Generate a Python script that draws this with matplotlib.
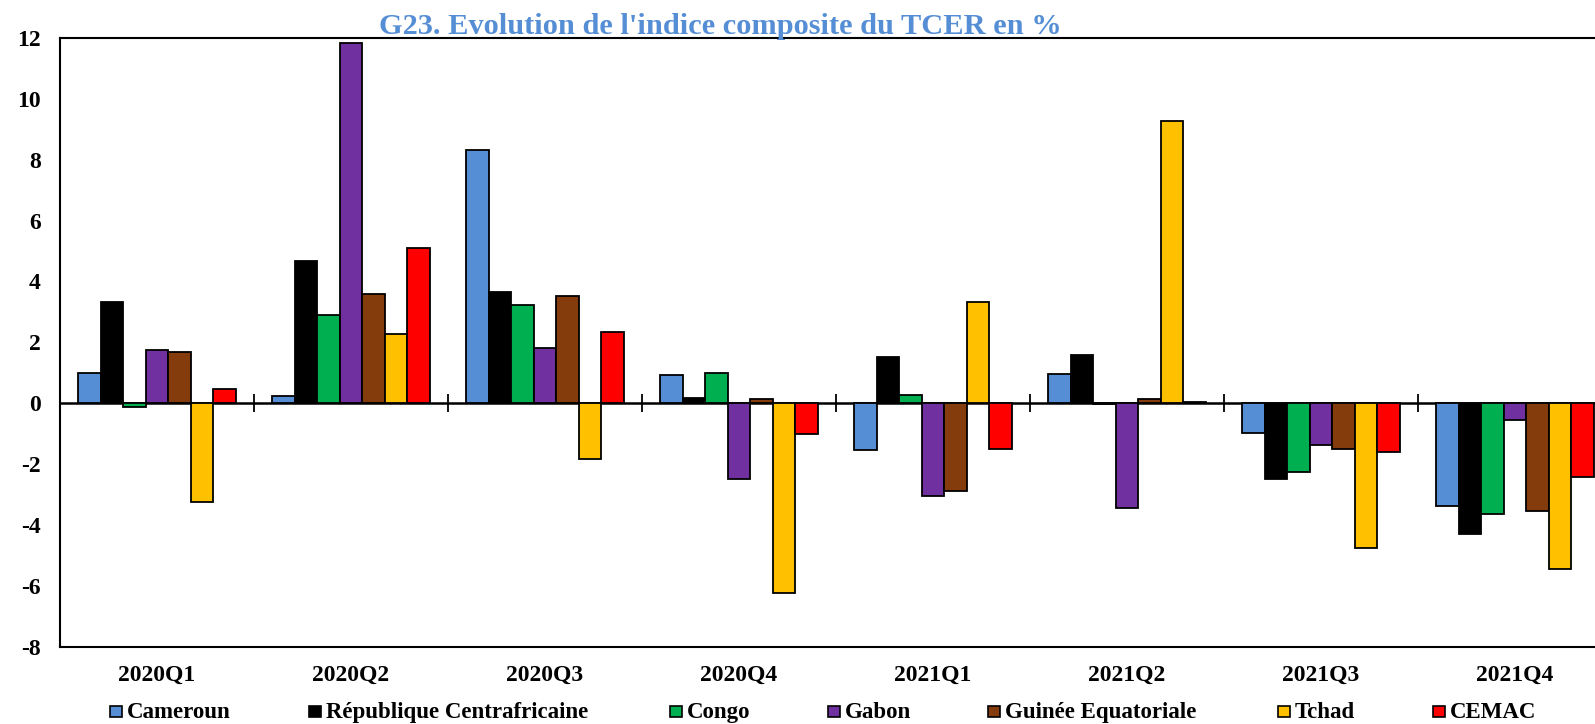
import matplotlib
matplotlib.use("Agg")
import matplotlib.pyplot as plt
import numpy as np
from matplotlib.patches import Rectangle

quarters = ["2020Q1", "2020Q2", "2020Q3", "2020Q4", "2021Q1", "2021Q2", "2021Q3", "2021Q4"]
series_names = ["Cameroun", "République Centrafricaine", "Congo", "Gabon",
                "Guinée Equatoriale", "Tchad", "CEMAC"]
cameroun = [0.99, 0.24, 8.32, 0.94, -1.53, 0.96, -0.97, -3.39]
rca = [3.32, 4.67, 3.64, 0.18, 1.53, 1.57, -2.50, -4.30]
congo = [-0.11, 2.90, 3.23, 0.99, 0.27, -0.03, -2.27, -3.65]
gabon = [1.75, 11.84, 1.83, -2.48, -3.05, -3.43, -1.37, -0.55]
guinee = [1.68, 3.60, 3.52, 0.15, -2.88, 0.13, -1.51, -3.54]
tchad = [-3.25, 2.29, -1.83, -6.22, 3.34, 9.26, -4.76, -5.46]
cemac = [0.47, 5.11, 2.34, -1.02, -1.51, 0.03, -1.61, -2.43]
colors = ["#558ED5", "#000000", "#00B050", "#7030A0", "#843C0C", "#FFC000", "#FF0000"]
yticks = [-8, -6, -4, -2, 0, 2, 4, 6, 8, 10, 12]

plt.rcParams['font.family'] = ['Liberation Serif', 'DejaVu Serif']
plt.rcParams['font.weight'] = 'bold'

W, H = 1595, 724
fig = plt.figure(figsize=(W / 100, H / 100), dpi=100)
left_px, right_px, top_px, bot_px = 60, 1612, 38, 646.7
ax = fig.add_axes([left_px / W, (H - bot_px) / H, (right_px - left_px) / W, (bot_px - top_px) / H])

data = [cameroun, rca, congo, gabon, guinee, tchad, cemac]
x = np.arange(len(quarters))
bw = 0.116
for i, (vals, c) in enumerate(zip(data, colors)):
    ax.bar(x + (i - 3) * bw, vals, width=bw, color=c, edgecolor="black", linewidth=1.3, zorder=2)

ax.set_xlim(-0.5, len(quarters) - 0.5)
ax.set_ylim(-8, 12)
ax.set_yticks(yticks)
ax.set_yticklabels([str(v) for v in yticks], fontsize=17, fontweight='bold')
ax.tick_params(axis='y', length=0, pad=14)
ax.set_xticks(x)
ax.set_xticklabels(quarters, fontsize=17, fontweight='bold')
ax.tick_params(axis='x', length=0, pad=13)
for s in ax.spines.values():
    s.set_linewidth(1.5)

# zero line with group boundary ticks
sec = ax.secondary_xaxis(8 / 20)
sec.set_xticks(np.arange(0.5, len(quarters) - 0.5, 1.0))
sec.set_xticklabels([])
sec.tick_params(direction='inout', length=13, width=1.3)
sec.spines['bottom'].set_linewidth(1.8)
sec.spines['top'].set_linewidth(1.8)

fig.text(720 / W, 1 - 33.5 / H, "G23. Evolution de l'indice composite du TCER en %",
         ha='center', va='baseline', fontsize=21.9, fontweight='bold', color="#558ED5")

# legend (manual, one shared baseline)
marker_left_px = [110, 309, 670, 828, 988, 1278, 1433]
baseline_px = 718
for name, c, mx in zip(series_names, colors, marker_left_px):
    fig.patches.append(Rectangle((mx / W, 1 - 717 / H), 12 / W, 11 / H,
                                 transform=fig.transFigure, facecolor=c,
                                 edgecolor='black', linewidth=1.2))
    fig.text((mx + 17) / W, 1 - baseline_px / H, name, ha='left', va='baseline',
             fontsize=16.5, fontweight='bold')

fig.savefig("out.png", dpi=100)
